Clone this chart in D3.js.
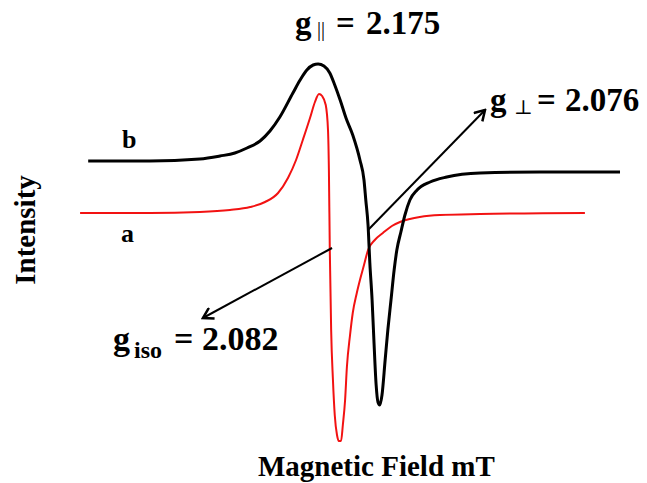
<!DOCTYPE html>
<html>
<head>
<meta charset="utf-8">
<script src="https://cdn.jsdelivr.net/npm/d3@7"></script>
<style>
  body { margin: 0; background: #fff; }
  text { font-family: "Liberation Serif", "DejaVu Serif", serif; font-weight: bold; fill: #000; }
</style>
</head>
<body>
<svg id="chart" width="647" height="483"></svg>
<script>
const WIDTH = 647
const HEIGHT = 483

// field in mT, intensity in a.u. (red baseline = 0)
const fieldA = [260.0, 275.5, 286.6, 293.3, 297.8, 301.1, 304.0, 306.2, 308.0, 309.5, 311.1, 312.2, 313.1, 313.8, 314.6, 315.1, 315.3, 315.5, 315.8, 316.2, 316.6, 317.1, 317.5, 318.0, 318.4, 318.9, 319.3, 320.0, 320.6, 321.5, 322.2, 323.1, 324.0, 325.5, 327.3, 329.3, 331.1, 333.3, 335.5, 340.0, 348.9, 372.2]
const intensityA = [0, 0, 0.01, 0.03, 0.06, 0.11, 0.20, 0.35, 0.53, 0.73, 0.95, 1.11, 1.19, 1.17, 1.08, 0.83, 0.43, -0.37, -1.17, -1.67, -2.02, -2.22, -2.28, -2.28, -2.12, -1.87, -1.54, -1.22, -1.00, -0.80, -0.67, -0.52, -0.37, -0.27, -0.20, -0.13, -0.09, -0.06, -0.04, -0.02, -0.01, 0]

const fieldB = [261.8, 275.5, 286.6, 291.1, 294.4, 297.1, 300.0, 302.2, 304.4, 307.3, 308.9, 310.4, 311.8, 312.9, 314.2, 315.5, 316.6, 317.8, 319.1, 320.6, 322.2, 323.1, 323.5, 324.0, 324.4, 324.9, 325.3, 325.8, 326.2, 326.6, 327.1, 327.8, 328.4, 329.1, 329.8, 330.4, 331.3, 332.2, 333.3, 334.9, 337.8, 341.5, 348.9, 362.2, 380.0]
const intensityB = [0, 0, 0.02, 0.05, 0.08, 0.13, 0.20, 0.30, 0.44, 0.68, 0.81, 0.91, 0.96, 0.97, 0.95, 0.88, 0.76, 0.61, 0.43, 0.26, 0.01, -0.19, -0.39, -0.64, -1.02, -1.39, -1.79, -2.24, -2.41, -2.44, -2.34, -1.99, -1.69, -1.39, -1.09, -0.89, -0.71, -0.54, -0.39, -0.29, -0.21, -0.16, -0.12, -0.11, -0.11]
const OFFSET_B = 0.52 // spectrum b is stacked above a

// annotation arrows: [field, intensity] from -> to
const arrowPerp = [[324.0, -0.17], [350.0, 1.03]]
const arrowIso = [[316.0, -0.35], [287.3, -1.05]]

const x = d3.scaleLinear().domain([242.2, 386]).range([0, WIDTH])
const y = d3.scaleLinear().domain([-2.7, 2.13]).range([HEIGHT, 0])

const svg = d3.select("#chart")

svg.append("defs").append("marker")
  .attr("id", "head")
  .attr("viewBox", "-12 -7 14 14")
  .attr("refX", 0).attr("refY", 0)
  .attr("markerWidth", 14).attr("markerHeight", 14)
  .attr("markerUnits", "userSpaceOnUse")
  .attr("orient", "auto")
  .append("path")
    .attr("d", "M-10,-6 L0,0 L-10,6")
    .attr("fill", "none")
    .attr("stroke", "#000")
    .attr("stroke-width", 2.5)

const line = d3.line()
  .x(d => x(d[0]))
  .y(d => y(d[1]))
  .curve(d3.curveMonotoneX)

//red spectrum a
svg.append("path")
  .datum(d3.zip(fieldA, intensityA))
  .attr("d", line)
  .attr("fill", "none")
  .attr("stroke", "#f21212")
  .attr("stroke-width", 2)

//black spectrum b
svg.append("path")
  .datum(d3.zip(fieldB, intensityB.map(v => v + OFFSET_B)))
  .attr("d", line)
  .attr("fill", "none")
  .attr("stroke", "#000")
  .attr("stroke-width", 3)

//arrows
;[arrowPerp, arrowIso].forEach(a => {
  svg.append("line")
    .attr("x1", x(a[0][0])).attr("y1", y(a[0][1]))
    .attr("x2", x(a[1][0])).attr("y2", y(a[1][1]))
    .attr("stroke", "#000")
    .attr("stroke-width", 2)
    .attr("marker-end", "url(#head)")
})

//g-value labels, pieces placed one by one
function gLabel(xs, yBase, sub, subStyle, value, size){
  svg.append("text").attr("x", xs[0]).attr("y", yBase).style("font-size", size).text("g")
  svg.append("text").attr("x", xs[1]).attr("y", yBase + subStyle.dy)
    .style("font-size", subStyle.size).style("font-weight", subStyle.weight).text(sub)
  svg.append("text").attr("x", xs[2]).attr("y", yBase).style("font-size", size).text("=")
  svg.append("text").attr("x", xs[3]).attr("y", yBase).style("font-size", size).text(value)
}
gLabel([295, 317, 336, 366], 34, "||", {size: "20px", weight: "normal", dy: 2}, "2.175", "33px")
gLabel([490, 514, 537, 565], 111, "\u22a5", {size: "20px", weight: "normal", dy: 3}, "2.076", "33px")
gLabel([113, 134, 174, 202], 350, "iso", {size: "24px", weight: "bold", dy: 8}, "2.082", "34px")

svg.append("text").attr("x", 122).attr("y", 148).style("font-size", "26px").text("b")
svg.append("text").attr("x", 121).attr("y", 242).style("font-size", "26px").text("a")

svg.append("text")
  .attr("transform", "translate(35,230)rotate(-90)")
  .attr("text-anchor", "middle")
  .style("font-size", "29px")
  .text("Intensity")

svg.append("text")
  .attr("x", 258).attr("y", 476)
  .style("font-size", "29px")
  .text("Magnetic Field mT")
</script>
</body>
</html>
